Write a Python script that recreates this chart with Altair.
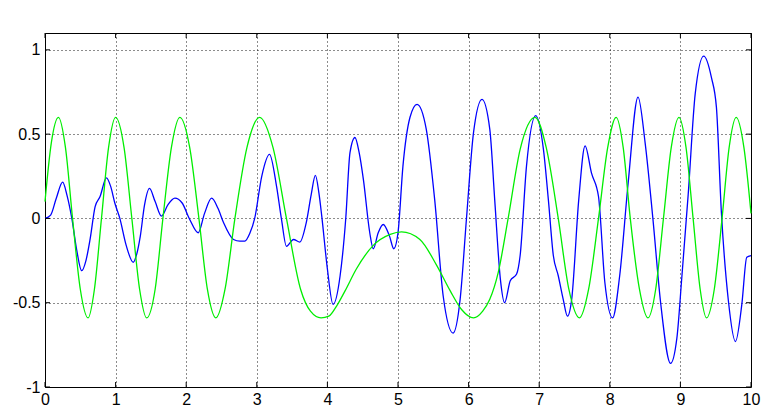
import altair as alt
import pandas as pd

# ---- data ----
blue_x = [0.00, 0.08, 0.16, 0.25, 0.31, 0.38, 0.45, 0.52, 0.58, 0.64, 0.71, 0.78, 0.87, 0.93, 0.99,
          1.06, 1.15, 1.25, 1.30, 1.35, 1.41, 1.48, 1.56, 1.65, 1.74, 1.84, 1.94, 2.05, 2.17, 2.26,
          2.36, 2.45, 2.53, 2.67, 2.76, 2.83, 2.90, 2.97, 3.07, 3.18, 3.28, 3.35, 3.42, 3.52, 3.61,
          3.70, 3.77, 3.83, 3.88, 3.92, 4.00, 4.08, 4.18, 4.26, 4.32, 4.39, 4.45, 4.51, 4.60, 4.65,
          4.72, 4.79, 4.88, 4.94, 5.00, 5.07, 5.17, 5.27, 5.40, 5.52, 5.64, 5.78, 5.88, 5.97, 6.07,
          6.19, 6.30, 6.37, 6.45, 6.51, 6.59, 6.68, 6.73, 6.82, 6.95, 7.06, 7.13, 7.20, 7.27, 7.34,
          7.40, 7.46, 7.56, 7.65, 7.74, 7.84, 7.93, 8.04, 8.14, 8.26, 8.40, 8.50, 8.61, 8.72, 8.86,
          8.95, 9.02, 9.11, 9.21, 9.33, 9.44, 9.51, 9.58, 9.68, 9.78, 9.87, 9.94, 10.00]
blue_y = [0.00, 0.02, 0.12, 0.215, 0.14, 0.00, -0.19, -0.31, -0.25, -0.12, 0.07, 0.13, 0.24, 0.19, 0.09,
          0.00, -0.16, -0.26, -0.21, -0.105, 0.08, 0.178, 0.10, 0.014, 0.08, 0.12, 0.093, -0.006, -0.085, 0.03,
          0.12, 0.06, -0.026, -0.125, -0.135, -0.135, -0.09, 0.00, 0.25, 0.38, 0.19, -0.006, -0.165, -0.125, -0.14,
          -0.026, 0.14, 0.255, 0.15, 0.014, -0.30, -0.51, -0.34, 0.00, 0.39, 0.48, 0.39, 0.23, -0.085, -0.18,
          -0.085, -0.036, -0.105, -0.18, -0.085, 0.31, 0.60, 0.677, 0.53, 0.11, -0.46, -0.68, -0.48, 0.00, 0.51,
          0.706, 0.53, 0.11, -0.36, -0.50, -0.37, -0.33, -0.22, 0.31, 0.61, 0.41, 0.11, -0.22, -0.34, -0.48,
          -0.58, -0.48, 0.11, 0.43, 0.27, 0.13, -0.38, -0.59, -0.34, 0.21, 0.72, 0.45, 0.00, -0.50, -0.86,
          -0.71, -0.35, 0.14, 0.74, 0.963, 0.835, 0.66, 0.04, -0.49, -0.73, -0.51, -0.23, -0.22]

green_x = [0.00, 0.09, 0.19, 0.29, 0.39, 0.50, 0.61, 0.70, 0.80, 0.90, 1.00, 1.12, 1.23, 1.34, 1.44,
           1.56, 1.67, 1.79, 1.91, 2.05, 2.18, 2.30, 2.42, 2.55, 2.69, 2.86, 3.04, 3.23, 3.42, 3.62,
           3.76, 3.91, 4.02, 4.13, 4.25, 4.41, 4.65, 4.89, 5.05, 5.31, 5.55, 5.74, 5.90, 6.07, 6.20,
           6.30, 6.42, 6.56, 6.73, 6.94, 7.10, 7.27, 7.42, 7.57, 7.70, 7.84, 7.97, 8.09, 8.19, 8.29,
           8.42, 8.54, 8.65, 8.76, 8.87, 8.98, 9.08, 9.18, 9.28, 9.37, 9.48, 9.59, 9.69, 9.79, 9.90,
           10.00]
green_y = [0.10, 0.45, 0.60, 0.42, 0.00, -0.42, -0.59, -0.42, 0.00, 0.42, 0.60, 0.42, 0.00, -0.42, -0.59,
           -0.42, 0.00, 0.42, 0.60, 0.42, 0.00, -0.42, -0.59, -0.42, 0.00, 0.42, 0.60, 0.42, 0.00, -0.42,
           -0.55, -0.59, -0.58, -0.52, -0.43, -0.30, -0.16, -0.095, -0.08, -0.125, -0.28, -0.43, -0.54, -0.59, -0.55,
           -0.48, -0.32, 0.00, 0.41, 0.60, 0.42, 0.00, -0.42, -0.59, -0.42, 0.00, 0.42, 0.60, 0.42, 0.00,
           -0.42, -0.59, -0.42, 0.00, 0.42, 0.60, 0.42, 0.00, -0.42, -0.59, -0.42, 0.00, 0.42, 0.60, 0.42,
           0.03]

x_ticks = [0, 1, 2, 3, 4, 5, 6, 7, 8, 9, 10]
y_ticks = [-1, -0.5, 0, 0.5, 1]

W, H = 706, 354

blue = pd.DataFrame({"t": blue_x, "v": blue_y})
green = pd.DataFrame({"t": green_x, "v": green_y})
xt = pd.DataFrame({"t": x_ticks})
yt = pd.DataFrame({"v": y_ticks})

xs = alt.Scale(domain=[0, 10], nice=False, zero=False)
ys = alt.Scale(domain=[-1, 1.1], nice=False, zero=False)


def xenc():
    return alt.X("t:Q", scale=xs, title=None,
                 axis=alt.Axis(values=x_ticks, labelExpr="'' + datum.value", labelPadding=4,
                               labelFlush=False, labelOverlap=False))


def yenc():
    return alt.Y("v:Q", scale=ys, title=None,
                 axis=alt.Axis(values=y_ticks, labelExpr="'' + datum.value", labelPadding=5,
                               labelFlush=False, labelOverlap=False))


blue_line = alt.Chart(blue).mark_line(color="#0000ff", strokeWidth=1.3, interpolate="monotone").encode(
    x=xenc(), y=yenc())
green_line = alt.Chart(green).mark_line(color="#00ee00", strokeWidth=1.3, interpolate="monotone").encode(
    x=xenc(), y=yenc())

tick_top = alt.Chart(xt).mark_rule(color="black", strokeWidth=1).encode(
    x=xenc(), y=alt.value(0), y2=alt.value(5))
tick_bottom = alt.Chart(xt).mark_rule(color="black", strokeWidth=1).encode(
    x=xenc(), y=alt.value(H), y2=alt.value(H - 5))
tick_left = alt.Chart(yt).mark_rule(color="black", strokeWidth=1).encode(
    y=yenc(), x=alt.value(0), x2=alt.value(5))
tick_right = alt.Chart(yt).mark_rule(color="black", strokeWidth=1).encode(
    y=yenc(), x=alt.value(W), x2=alt.value(W - 5))

chart = alt.layer(blue_line, green_line, tick_top, tick_bottom, tick_left, tick_right).properties(
    width=W, height=H,
    autosize=alt.AutoSizeParams(type="none"),
    padding={"left": 37, "top": 25, "right": 10, "bottom": 22},
    background="white",
).configure_view(
    stroke="black", strokeWidth=1
).configure_axis(
    domain=False, tickSize=0, grid=True, gridColor="black", gridDash=[1, 3], gridWidth=1,
    gridOpacity=0.9, labelFont="Liberation Sans", labelFontSize=16, labelColor="black",
)

chart.save("out.html", embed_options={"renderer": "svg", "actions": False})
